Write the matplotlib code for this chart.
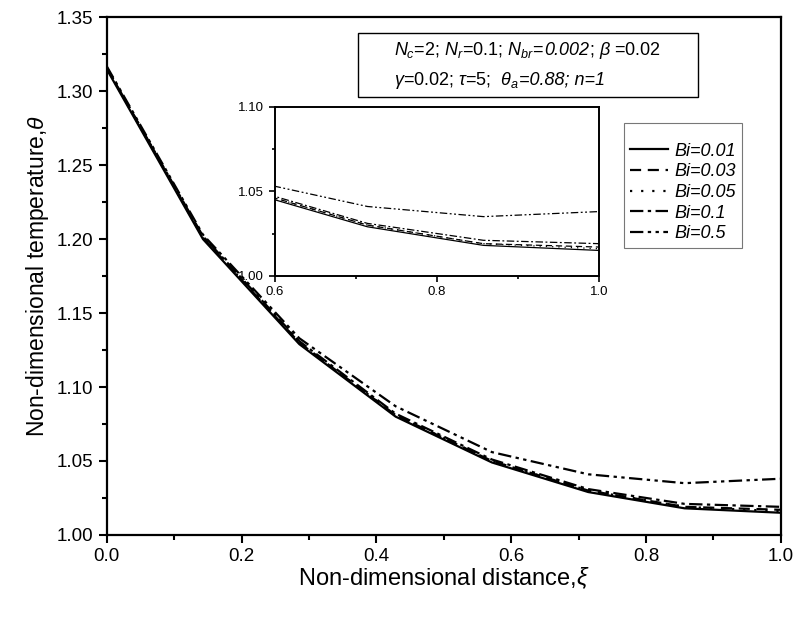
import numpy as np
import matplotlib
matplotlib.use('Agg')
import matplotlib.pyplot as plt
import matplotlib.patches as patches
from matplotlib.ticker import MultipleLocator
from matplotlib.offsetbox import TextArea, HPacker, VPacker, AnchoredOffsetbox

plt.rcParams['font.family'] = ['Liberation Sans', 'DejaVu Sans']
plt.rcParams['mathtext.fontset'] = 'custom'
plt.rcParams['mathtext.rm'] = 'Liberation Sans'
plt.rcParams['mathtext.it'] = 'Liberation Sans:italic'
plt.rcParams['mathtext.bf'] = 'Liberation Sans:bold'

# --- Data ---
xi = [0.0, 1/7, 2/7, 3/7, 4/7, 5/7, 6/7, 1.0]
bi_labels = ['Bi=0.01', 'Bi=0.03', 'Bi=0.05', 'Bi=0.1', 'Bi=0.5']
theta_001 = [1.315, 1.200, 1.129, 1.080, 1.049, 1.029, 1.018, 1.015]
theta_003 = [1.316, 1.201, 1.130, 1.081, 1.050, 1.030, 1.019, 1.017]
theta_005 = [1.316, 1.201, 1.130, 1.081, 1.050, 1.030, 1.019, 1.016]
theta_01 = [1.316, 1.202, 1.131, 1.082, 1.051, 1.031, 1.021, 1.019]
theta_05 = [1.317, 1.203, 1.133, 1.087, 1.056, 1.041, 1.035, 1.038]
series = [theta_001, theta_003, theta_005, theta_01, theta_05]

# line styles
styles = [
    dict(linestyle='-'),
    dict(dashes=(5, 3)),
    dict(dashes=(1, 4)),
    dict(dashes=(6, 2, 1.5, 2)),
    dict(dashes=(6, 2, 1.5, 2, 1.5, 2)),
]

fig = plt.figure(figsize=(7.96, 6.17), dpi=100)
ax = fig.add_axes([0.134, 0.133, 0.847, 0.839])

for vals, lab, st in zip(series, bi_labels, styles):
    ax.plot(xi, vals, color='black', linewidth=1.6, label=lab, **st)

ax.set_xlim(0, 1)
ax.set_ylim(1.0, 1.35)
ax.xaxis.set_major_locator(MultipleLocator(0.2))
ax.xaxis.set_minor_locator(MultipleLocator(0.1))
ax.yaxis.set_major_locator(MultipleLocator(0.05))
ax.yaxis.set_minor_locator(MultipleLocator(0.025))
ax.tick_params(which='major', direction='out', length=6, width=1.5, labelsize=13.5)
ax.tick_params(which='minor', direction='out', length=3.5, width=1.5)
ax.xaxis.set_major_formatter(plt.FormatStrFormatter('%.1f'))
ax.yaxis.set_major_formatter(plt.FormatStrFormatter('%.2f'))
for s in ax.spines.values():
    s.set_linewidth(1.6)

ax.set_xlabel(r'Non-dimensional distance,$\xi$', fontsize=17, labelpad=0)
ax.set_ylabel(r'Non-dimensional temperature,$\theta$', fontsize=16.5, labelpad=4)

# parameter box (frame drawn separately, text left aligned inside)
fig.patches.append(patches.Rectangle((0.4497, 0.8428), 0.427, 0.1037, transform=fig.transFigure,
                                     facecolor='white', edgecolor='black', linewidth=1.0, zorder=3))
fs = 13
line1 = HPacker(children=[
    TextArea(r'$N_{c}$=2; $N_{r}$=0.1; $N_{br}$=', textprops=dict(size=fs)),
    TextArea('0.002', textprops=dict(size=fs, style='italic')),
    TextArea(r'; $\beta$ =0.02', textprops=dict(size=fs)),
], align='baseline', pad=0, sep=0)
line2 = HPacker(children=[
    TextArea(r'$\gamma$=0.02; $\tau$=5;  $\theta_{a}$', textprops=dict(size=fs)),
    TextArea('=0.88; n=1', textprops=dict(size=fs, style='italic')),
], align='baseline', pad=0, sep=0)
block = VPacker(children=[line1, line2], align='left', pad=0, sep=6)
anch = AnchoredOffsetbox(loc='center left', child=block, frameon=False, pad=0, borderpad=0,
                         bbox_to_anchor=(0.495, 0.894), bbox_transform=fig.transFigure)
anch.set_zorder(4)
fig.add_artist(anch)

# inset
ins = fig.add_axes([0.345, 0.553, 0.408, 0.274])
for vals, st in zip(series, styles):
    ins.plot(xi, vals, color='black', linewidth=0.9, **st)
ins.set_xlim(0.6, 1.0)
ins.set_ylim(1.0, 1.1)
ins.xaxis.set_major_locator(MultipleLocator(0.2))
ins.xaxis.set_minor_locator(MultipleLocator(0.1))
ins.yaxis.set_major_locator(MultipleLocator(0.05))
ins.yaxis.set_minor_locator(MultipleLocator(0.025))
ins.xaxis.set_major_formatter(plt.FormatStrFormatter('%.1f'))
ins.yaxis.set_major_formatter(plt.FormatStrFormatter('%.2f'))
ins.tick_params(which='major', direction='out', length=4, width=1.2, labelsize=9.5)
ins.tick_params(which='minor', direction='out', length=2.5, width=1.2)
for s in ins.spines.values():
    s.set_linewidth(1.4)

# legend
handles = ax.get_lines()
leg = fig.legend(handles, bi_labels, loc='upper left', bbox_to_anchor=(0.784, 0.801),
                 frameon=True, fancybox=False, edgecolor='#555555', title=' ', title_fontsize=7,
                 handlelength=2.1, handletextpad=0.35, borderpad=0.35, labelspacing=0.2,
                 borderaxespad=0, prop={'style': 'italic', 'size': 13})
leg.get_frame().set_linewidth(0.8)

fig.savefig('out.png', dpi=100, facecolor='white')
